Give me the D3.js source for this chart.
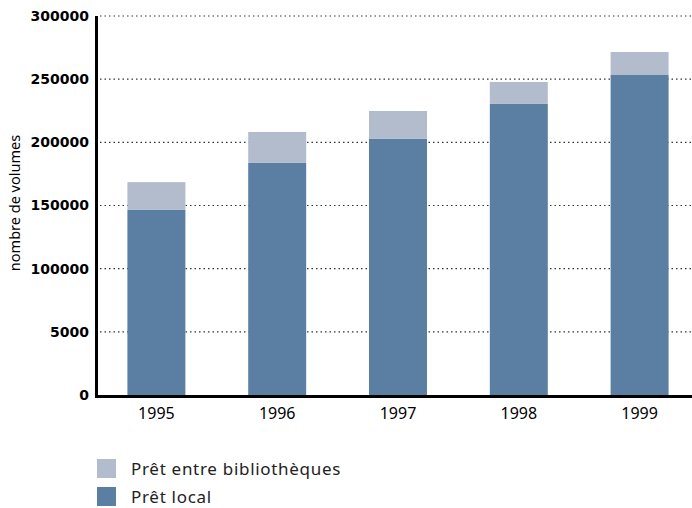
<!DOCTYPE html>
<head>
    <meta charset="utf-8">
    <script src="https://d3js.org/d3.v7.min.js"></script>
    <style>
        body { margin: 0; background: #fff; }
        .tick-label { font-family: "DejaVu Sans", sans-serif; font-weight: bold; font-size: 14px; }
        .year { font-family: "Noto Sans", sans-serif; font-size: 16px; }
        .legend text { font-family: "Noto Sans", sans-serif; font-size: 17px; letter-spacing: 0.7px; fill: #222; }
    </style>
</head>
<body>
    <svg width="692" height="508"></svg>
    <script>
        // data
        var years = ["1995", "1996", "1997", "1998", "1999"];
        var pretLocal = [146500, 183700, 202700, 230400, 253300];
        var pretEntre = [22000, 24500, 22100, 17400, 18200];
        var yTicks = [0, 50000, 100000, 150000, 200000, 250000, 300000];
        var yTickLabels = ["0", "5000", "100000", "150000", "200000", "250000", "300000"];

        var svg = d3.select("svg");

        var x = d3.scaleBand().domain(years).range([96, 700]).paddingInner(0.52).paddingOuter(0.26);
        var y = d3.scaleLinear().domain([0, 300000]).range([395, 16]);

        // dotted gridlines
        svg.append("g")
            .selectAll("line")
            .data(yTicks.slice(1))
            .enter().append("line")
            .attr("x1", 100).attr("x2", 692)
            .attr("y1", d => y(d)).attr("y2", d => y(d))
            .attr("stroke", "#333")
            .attr("stroke-width", 1.2)
            .attr("stroke-dasharray", "1.5,3");

        // stacked bars
        var bars = svg.append("g");
        bars.selectAll("rect.local")
            .data(years)
            .enter().append("rect")
            .attr("class", "local")
            .attr("x", d => x(d))
            .attr("width", x.bandwidth())
            .attr("y", (d, i) => y(pretLocal[i]))
            .attr("height", (d, i) => y(0) - y(pretLocal[i]))
            .attr("fill", "#5a7fa2");
        bars.selectAll("rect.entre")
            .data(years)
            .enter().append("rect")
            .attr("class", "entre")
            .attr("x", d => x(d))
            .attr("width", x.bandwidth())
            .attr("y", (d, i) => y(pretLocal[i] + pretEntre[i]))
            .attr("height", (d, i) => y(pretLocal[i]) - y(pretLocal[i] + pretEntre[i]))
            .attr("fill", "#b3bccd");

        // axes
        svg.append("line")
            .attr("x1", 96.5).attr("x2", 96.5)
            .attr("y1", 16).attr("y2", 397)
            .attr("stroke", "#000").attr("stroke-width", 3);
        svg.append("line")
            .attr("x1", 95).attr("x2", 692)
            .attr("y1", 396.5).attr("y2", 396.5)
            .attr("stroke", "#000").attr("stroke-width", 3);

        svg.append("g")
            .selectAll("text")
            .data(yTicks)
            .enter().append("text")
            .attr("class", "tick-label")
            .attr("x", 89)
            .attr("y", d => y(d))
            .attr("dy", "0.35em")
            .attr("text-anchor", "end")
            .text((d, i) => yTickLabels[i]);

        svg.append("g")
            .selectAll("text")
            .data(years)
            .enter().append("text")
            .attr("class", "year")
            .attr("x", d => x(d) + x.bandwidth() / 2)
            .attr("y", 419)
            .attr("text-anchor", "middle")
            .text(d => d);

        svg.append("text")
            .attr("transform", "translate(20,203) rotate(-90)")
            .attr("text-anchor", "middle")
            .style("font-family", "Noto Sans, sans-serif")
            .style("font-size", "14.5px")
            .text("nombre de volumes");

        // legend
        var legendItems = [
            { label: "Prêt entre bibliothèques", color: "#b3bccd" },
            { label: "Prêt local", color: "#5a7fa2" }
        ];
        var legend = svg.append("g").attr("class", "legend")
            .selectAll("g")
            .data(legendItems)
            .enter().append("g")
            .attr("transform", (d, i) => "translate(97," + (459 + i * 28) + ")");
        legend.append("rect")
            .attr("width", 19).attr("height", 19)
            .attr("fill", d => d.color);
        legend.append("text")
            .attr("x", 34).attr("y", 16)
            .text(d => d.label);
    </script>
</body>
